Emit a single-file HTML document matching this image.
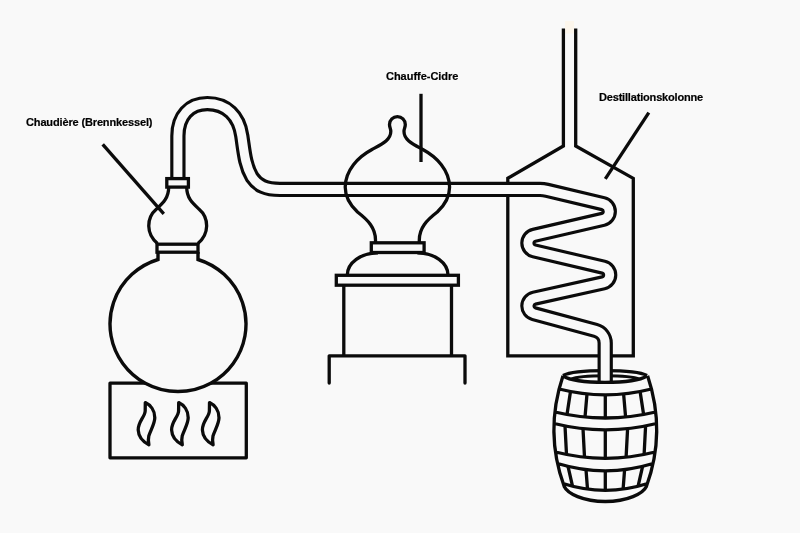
<!DOCTYPE html>
<html><head><meta charset="utf-8"><style>html,body{margin:0;padding:0;background:#f9f9f9;}svg{display:block;} text{-webkit-font-smoothing:antialiased;} .gs{will-change:transform;}</style></head>
<body><svg width="800" height="533" viewBox="0 0 800 533">
<rect width="800" height="533" fill="#f9f9f9"/>
<rect x="565" y="21" width="9" height="12.5" fill="#fcf6ec"/>
<g fill="none" stroke="#0b0b0b" stroke-width="3.3">
<!-- furnace -->
<rect x="110" y="383.2" width="136.3" height="74.6" stroke-linejoin="round"/>
<!-- column -->
<path d="M563.4,28.4 V146 L507.8,178.2 V355.9 H633.3 V178.4 L575.7,146 V28.4" stroke-linejoin="miter"/>
<!-- barrel -->
<path d="M563,375.8 Q544.2,432 564.2,486.5 C567.5,493.5 583,501.5 605.3,501.5 C627.6,501.5 643.1,493.5 646.4,486.5 Q666.4,432 647.6,375.8 M559.12,389 Q605.3,400.6 651.48,389 M554.94,412 Q605.3,424 655.66,412 M554.08,423.5 Q605.3,436.1 656.52,423.5 M555.49,452 Q605.3,464.6 655.11,452 M557.49,463.5 Q605.3,478.1 653.11,463.5 M562.93,483.5 Q605.3,497.1 647.67,483.5 "/>
<path d="M570.5,391.51 L567,414.53 M640.1,391.51 L643.6,414.53 M587,393.89 L585,417.02 M623.6,393.89 L625.6,417.02 M605.3,394.8 L605.3,418 M565,425.9 L566.5,454.48 M645.6,425.9 L644.1,454.48 M583,428.61 L584.5,457.2 M627.6,428.61 L626.1,457.2 M605.3,429.8 L605.3,458.3 M568,466.36 L572.5,486.22 M642.6,466.36 L638.1,486.22 M586,469.61 L587.5,489.1 M624.6,469.61 L623.1,489.1 M605.3,470.8 L605.3,490.3 "/>
<path d="M563,375.5 C575,369 635,369 647,375.5"/>
<path d="M571,379.3 C581,374.5 629,374.5 639.6,379.3" stroke-width="3"/>
<!-- middle still -->
<rect x="371.3" y="242.8" width="52.8" height="9.7"/>
<path d="M378,252.8 C360.9,252.8 347.3,262.9 347.3,275 M417.3,252.8 C434.4,252.8 448,262.9 448,275"/>
<rect x="336.3" y="275.3" width="122.1" height="9.9"/>
<path d="M343.8,285.2 V355.4 M451.5,285.2 V355.4"/>
<path d="M329.2,383 V355.8 H465 V383" stroke-linecap="round" stroke-linejoin="round"/>
</g>
<!-- tube -->
<path d="M177.9,179 V136 C177.9,116 189.5,103.6 207.3,103.6 C226.5,103.6 239,116 241.8,136 C244.2,152 245,165 252,177 C258,186 266,189.45 280,189.45 H540 A30,30 0 0 1 546.98,190.27 L603.16,203.72 A8,8 0 0 1 603.11,219.29 L534.09,235.31 A8,8 0 0 0 534.07,250.89 L603.53,267.21 A8,8 0 0 1 603.43,282.81 L534.17,298.19 A8,8 0 0 0 533.81,313.72 L595.6,330.45 A13,13 0 0 1 605.2,343 V382" fill="none" stroke="#0b0b0b" stroke-width="15.3"/>
<path d="M177.9,179 V136 C177.9,116 189.5,103.6 207.3,103.6 C226.5,103.6 239,116 241.8,136 C244.2,152 245,165 252,177 C258,186 266,189.45 280,189.45 H540 A30,30 0 0 1 546.98,190.27 L603.16,203.72 A8,8 0 0 1 603.11,219.29 L534.09,235.31 A8,8 0 0 0 534.07,250.89 L603.53,267.21 A8,8 0 0 1 603.43,282.81 L534.17,298.19 A8,8 0 0 0 533.81,313.72 L595.6,330.45 A13,13 0 0 1 605.2,343 V382" fill="none" stroke="#f9f9f9" stroke-width="9"/>
<g fill="none" stroke="#0b0b0b" stroke-width="3.3">
<path d="M563,376 C577,384.5 633,384.5 647,376"/>
<path d="M375.5,243 L375.5,240 C375.5,228 368,220 357.5,212 C350,205 345.2,198 345.2,187 C345.5,170 358,157 372,149.5 C382,144 390.8,140 390.8,131.5 C390.8,128.5 389.5,127.5 389.5,124.5 A7.9,7.9 0 0 1 405.3,124.5 C405.3,127.5 404,128.5 404,131.5 C404,140 412.8,144 422.8,149.5 C436.8,157 449.3,170 449.6,187 C449.6,198 444.8,205 437.3,212 C426.8,220 419.3,228 419.3,240 L419.3,243"/>
<!-- left still -->
<rect x="166.8" y="178.6" width="21.6" height="8.5" fill="#f9f9f9"/>
<path d="M168.7,187 C168.7,198 163,203 156.5,209 C146,218 146,234 157.5,243.5 M186.7,187 C186.7,198 192.4,203 198.9,209 C209.4,218 209.4,234 197.9,243.5" fill="#f9f9f9"/>
<path d="M158,252 V259.5 A68,67.5 0 1 0 198,259.5 V252" fill="#f9f9f9" stroke-width="3.4"/>
<rect x="157" y="244.2" width="41" height="8" fill="#f9f9f9"/>
<!-- flames -->
<g stroke-linejoin="round">
<path id="fl" d="M145.3,402.6 C150.5,405 154.9,410.5 154.8,417.7 C154.7,424 150.6,430 148.8,436 C148,439 148.4,442 148.9,444.8 C143.5,442 138.5,437 138.2,430 C137.9,422 144.8,417 145.2,411 Z"/>
<use href="#fl" x="33.4"/>
<use href="#fl" x="64.2"/>
</g>
<!-- leader lines -->
<path d="M102.7,144.3 L163.8,213.9"/>
<path d="M421,93.8 V162"/>
<path d="M648.8,112.7 L605.3,178.8"/>
</g>
<g class="gs" font-family="Liberation Sans, sans-serif" font-weight="bold" font-size="11" fill="#000" stroke="#000" stroke-width="0.2">
<text x="26" y="125.9" textLength="126.5" lengthAdjust="spacing">Chaudière (Brennkessel)</text>
<text x="386" y="79.5" textLength="72.4" lengthAdjust="spacing">Chauffe-Cidre</text>
<text x="599" y="100.8" textLength="104.2" lengthAdjust="spacing">Destillationskolonne</text>
</g>
</svg></body></html>
